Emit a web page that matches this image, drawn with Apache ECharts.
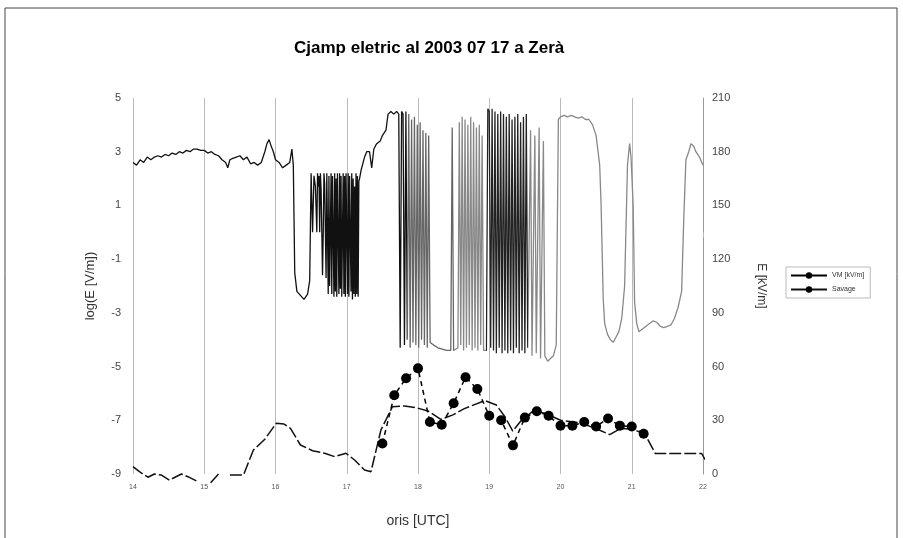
<!DOCTYPE html>
<html>
<head>
<meta charset="utf-8">
<script src="https://cdn.jsdelivr.net/npm/echarts@6/dist/echarts.min.js"></script>
<style>
  html, body { margin: 0; padding: 0; background: #fff; }
  #chart { width: 903px; height: 538px; }
</style>
</head>
<body>
<div id="chart"></div>
<script>
// campo elettrico: log(E) (asse sinistro)
var logTime = [
  14.00, 14.05, 14.10, 14.15, 14.20, 14.25, 14.30, 14.35, 14.40, 14.45,
  14.50, 14.55, 14.60, 14.65, 14.70, 14.75, 14.80, 14.85, 14.90, 14.95,
  15.00, 15.05, 15.10, 15.15, 15.20, 15.25, 15.30, 15.33, 15.36, 15.40,
  15.45, 15.50, 15.55, 15.60, 15.65, 15.70, 15.75, 15.80, 15.85, 15.88,
  15.91, 15.94, 15.97, 16.00, 16.05, 16.10, 16.15, 16.20, 16.23, 16.25,
  16.27, 16.30, 16.35, 16.40, 16.45, 16.48, 16.50, 16.52, 16.54, 16.56,
  16.58, 16.59, 16.60, 16.61, 16.62, 16.63, 16.64, 16.65, 16.66, 16.67,
  16.68, 16.69, 16.70, 16.71, 16.72, 16.73, 16.74, 16.75, 16.76, 16.77,
  16.78, 16.79, 16.80, 16.81, 16.82, 16.83, 16.84, 16.85, 16.86, 16.87,
  16.88, 16.89, 16.90, 16.91, 16.92, 16.93, 16.94, 16.95, 16.96, 16.97,
  16.98, 16.99, 17.00, 17.01, 17.02, 17.03, 17.04, 17.05, 17.06, 17.07,
  17.08, 17.09, 17.10, 17.11, 17.12, 17.13, 17.14, 17.15, 17.16, 17.17,
  17.18, 17.20, 17.25, 17.28, 17.32, 17.35, 17.38, 17.42, 17.47, 17.50,
  17.55, 17.58, 17.62, 17.66, 17.70, 17.73, 17.75, 17.77, 17.79, 17.81,
  17.83, 17.85, 17.87, 17.89, 17.91, 17.93, 17.95, 17.97, 17.99, 18.01,
  18.03, 18.05, 18.07, 18.09, 18.11, 18.13, 18.15, 18.17, 18.22, 18.28,
  18.34, 18.40, 18.46, 18.48, 18.50, 18.56, 18.58, 18.60, 18.62, 18.64,
  18.66, 18.68, 18.70, 18.72, 18.74, 18.76, 18.78, 18.80, 18.82, 18.84,
  18.86, 18.88, 18.90, 18.92, 18.96, 18.98, 19.00, 19.02, 19.04, 19.06,
  19.08, 19.10, 19.12, 19.14, 19.16, 19.18, 19.20, 19.22, 19.24, 19.26,
  19.28, 19.30, 19.32, 19.34, 19.36, 19.38, 19.40, 19.42, 19.44, 19.46,
  19.48, 19.50, 19.52, 19.54, 19.58, 19.60, 19.64, 19.66, 19.70, 19.72,
  19.76, 19.78, 19.82, 19.86, 19.90, 19.94, 19.97, 20.00, 20.05, 20.10,
  20.15, 20.20, 20.25, 20.30, 20.35, 20.40, 20.45, 20.50, 20.55, 20.57,
  20.60, 20.62, 20.66, 20.70, 20.74, 20.78, 20.82, 20.86, 20.90, 20.94,
  20.97, 20.99, 21.02, 21.04, 21.07, 21.10, 21.15, 21.20, 21.25, 21.30,
  21.35, 21.40, 21.45, 21.50, 21.55, 21.60, 21.65, 21.70, 21.73, 21.76,
  21.80, 21.83, 21.87, 21.90, 21.95, 22.00
];
var logE = [
  2.6, 2.5, 2.7, 2.6, 2.8, 2.7, 2.8, 2.85, 2.8, 2.9,
  2.85, 2.95, 2.9, 3.0, 2.95, 3.05, 3.0, 3.1, 3.1, 3.05,
  3.05, 2.95, 3.0, 2.9, 2.85, 2.7, 2.6, 2.4, 2.7, 2.75,
  2.8, 2.85, 2.7, 2.8, 2.55, 2.6, 2.5, 2.6, 3.0, 3.3,
  3.45, 3.2, 3.0, 2.7, 2.6, 2.4, 2.5, 2.6, 3.1, 2.5,
  -1.5, -2.2, -2.35, -2.5, -2.3, -1.8, 2.2, 0, 2.1, 1.7,
  0, 2.2, 1.7, 2.1, 0, 2.2, 1.6, 0, -1.6, 0,
  2.2, 1.8, 0, -1.7, 2.2, 0, -2.3, 2.1, -2.0, 0,
  2.2, -2.3, 2.1, 0, -2.4, 2.2, -2.2, 2.0, -2.4, 2.2,
  0, -2.3, 2.2, -2.1, 2.1, -2.4, 0, 2.2, -2.3, 2.1,
  -2.4, 2.2, 0, -2.3, 2.2, -2.4, 2.1, 0, -2.2, 2.2,
  -2.5, 2.0, -2.3, 1.7, -2.4, 2.2, -2.3, 2.1, -2.4, 1.9,
  2.0, 2.3, 2.8, 3.0, 3.0, 2.4, 3.1, 3.3, 3.4, 3.6,
  3.8, 4.4, 4.5, 4.4, 4.5, 4.4, -4.3, 4.5, 4.4, -4.2,
  4.5, -4.0, 4.4, -4.3, 4.2, -4.1, 4.3, -4.2, 4.0, -4.3,
  4.1, -4.0, 3.8, -4.2, 3.7, -4.3, 3.6, -4.1, -4.2, -4.3,
  -4.35, -4.4, -4.4, 3.9, -4.4, -4.3, 4.1, -4.2, 4.3, -4.4,
  4.2, -4.3, 4.0, -4.2, 4.3, -4.4, 4.1, -4.3, 3.9, -4.4,
  4.0, -4.2, 3.6, -4.4, -4.4, 4.6, 4.5, -4.3, 4.6, -4.4,
  4.5, -4.5, 4.4, -4.3, 4.5, -4.5, 4.4, -4.4, 4.3, -4.5,
  4.4, -4.4, 4.2, -4.5, 4.3, -4.3, 4.4, -4.5, 4.1, -4.4,
  4.3, -4.5, 4.4, -4.3, 3.8, -4.6, 3.6, -4.5, 3.9, -4.7,
  3.4, -4.6, -4.8, -4.7, -4.6, -4.2, 4.2, 4.3, 4.35, 4.3,
  4.35, 4.3, 4.25, 4.3, 4.2, 4.2, 4.0, 3.6, 2.5, 1.0,
  -2.5, -3.4, -3.8, -4.0, -4.1, -3.9, -3.7, -3.2, -2.0, 2.5,
  3.3, 2.8, 1.0, -2.6, -3.4, -3.7, -3.6, -3.5, -3.4, -3.3,
  -3.35, -3.5, -3.55, -3.5, -3.45, -3.2, -2.8, -2.2, 0.5, 2.7,
  3.0, 3.3, 3.2, 3.0, 2.8, 2.5
];

// misure a punti (asse destro)
var dotTime = [17.5, 17.667, 17.833, 18.0, 18.167, 18.333, 18.5, 18.667, 18.833, 19.0, 19.167, 19.333,
  19.5, 19.667, 19.833, 20.0, 20.167, 20.333, 20.5, 20.667, 20.833, 21.0, 21.167];
var dotVal = [17, 44, 53.5, 59, 29, 27.5, 39.5, 54, 47.5, 32.5, 30, 16,
  31.5, 35, 32.5, 27, 27, 29, 26.5, 31, 27, 26.5, 22.5];

// linea continua (asse destro)
var lineTime = [14.0, 14.09, 14.21, 14.3, 14.4, 14.51, 14.68, 14.77, 14.91, 15.0,
  15.09, 15.2, 15.28, 15.36, 15.55, 15.69, 15.85, 16.01, 16.12, 16.21,
  16.35, 16.52, 16.69, 16.83, 16.99, 17.11, 17.25, 17.34, 17.48, 17.55,
  17.64, 17.81, 17.98, 18.15, 18.32, 18.49, 18.65, 18.94, 19.1, 19.22,
  19.33, 19.44, 19.61, 19.78, 20.0, 20.29, 20.52, 20.69, 20.85, 21.02,
  21.19, 21.33, 21.53, 21.98, 22.03];
var lineVal = [4.1, 1.3, -1.8, 0, -0.6, -3.4, 0, -1.5, -4.3, null,
  -4.9, 0, null, -0.6, -0.6, 13.4, 19.4, 28.3, 27.9, 25.5,
  16.2, 13.0, 11.6, 9.7, 11.6, 7.8, 2.2, 1.3, 24.6, 30.2,
  37.5, 38, 37, 35, 30.5, 33, 36.5, 41, 38.5, 32,
  24, 29.5, 35, 34, 30, 28.5, 25, 22, 25.5, 25,
  22, 11.5, 11.5, 11.5, 8];

var seriesNames = ['VM [kV/m]', 'Savage'];

function pairs(xs, ys) {
  var out = [];
  for (var i = 0; i < xs.length; i++) {
    out.push([xs[i], ys[i]]);
  }
  return out;
}

var font = 'Liberation Sans, Arial, sans-serif';
var chart = echarts.init(document.getElementById('chart'), null, { renderer: 'canvas' });

var option = {
  animation: false,
  backgroundColor: '#fff',
  textStyle: { fontFamily: font },
  title: {
    text: 'Cjamp eletric al 2003 07 17 a Zerà',
    left: 289,
    top: 35,
    textStyle: { fontSize: 17, fontWeight: 'bold', color: '#000', fontFamily: font }
  },
  graphic: [{
    type: 'rect',
    shape: { x: 5, y: 8, width: 892, height: 545 },
    style: { fill: 'none', stroke: '#444', lineWidth: 1 },
    silent: true
  }],
  legend: {
    data: seriesNames,
    orient: 'vertical',
    left: 786,
    top: 267,
    itemWidth: 36,
    itemHeight: 8,
    itemGap: 7,
    padding: [5, 6, 5, 4],
    borderColor: '#bbb',
    borderWidth: 1,
    lineStyle: { type: 'solid' },
    textStyle: { fontSize: 7, color: '#333' }
  },
  visualMap: {
    show: false,
    type: 'piecewise',
    seriesIndex: 0,
    dimension: 0,
    pieces: [
      { lte: 17.84, color: '#111' },
      { gt: 17.84, lte: 18.5, color: '#666' },
      { gt: 18.5, lte: 18.95, color: '#888' },
      { gt: 18.95, lte: 19.55, color: '#222' },
      { gt: 19.55, color: '#888' }
    ]
  },
  grid: { left: 133, right: 200, top: 98, bottom: 64 },
  xAxis: {
    type: 'value',
    min: 14,
    max: 22,
    interval: 1,
    name: 'oris [UTC]',
    nameLocation: 'middle',
    nameGap: 40,
    nameTextStyle: { fontSize: 14, color: '#333' },
    axisLine: { show: false },
    axisTick: { show: true, length: 5, lineStyle: { color: '#bbb' } },
    axisLabel: { fontSize: 7, color: '#555', margin: 10 },
    splitLine: { show: true, lineStyle: { color: '#bbb', width: 1 } }
  },
  yAxis: [{
    type: 'value',
    min: -9,
    max: 5,
    interval: 2,
    name: 'log(E [V/m])',
    nameLocation: 'middle',
    nameGap: 36,
    nameTextStyle: { fontSize: 13, color: '#333' },
    axisLine: { show: false },
    axisTick: { show: false },
    axisLabel: { fontSize: 11, color: '#444', margin: 12 },
    splitLine: { show: false }
  }, {
    type: 'value',
    min: 0,
    max: 210,
    interval: 30,
    position: 'right',
    name: 'E [kV/m]',
    nameLocation: 'middle',
    nameGap: 52,
    nameRotate: -90,
    nameTextStyle: { fontSize: 12, color: '#333' },
    axisLine: { show: true, lineStyle: { color: '#999' } },
    axisTick: { show: false },
    axisLabel: { fontSize: 11, color: '#444', margin: 9 },
    splitLine: { show: false }
  }],
  series: [{
    name: 'logE',
    type: 'line',
    yAxisIndex: 0,
    data: pairs(logTime, logE),
    showSymbol: false,
    symbol: 'none',
    lineStyle: { width: 1.3 },
    z: 2
  }, {
    name: seriesNames[0],
    type: 'line',
    yAxisIndex: 1,
    data: pairs(dotTime, dotVal),
    symbol: 'circle',
    symbolSize: 10,
    itemStyle: { color: '#000' },
    lineStyle: { color: '#000', width: 1.5, type: [5, 4] },
    z: 4
  }, {
    name: seriesNames[1],
    type: 'line',
    yAxisIndex: 1,
    data: pairs(lineTime, lineVal),
    symbol: 'none',
    clip: false,
    connectNulls: false,
    itemStyle: { color: '#000' },
    lineStyle: { color: '#111', width: 1.5, type: [12, 3] },
    z: 3
  }]
};

chart.setOption(option);
</script>
</body>
</html>
